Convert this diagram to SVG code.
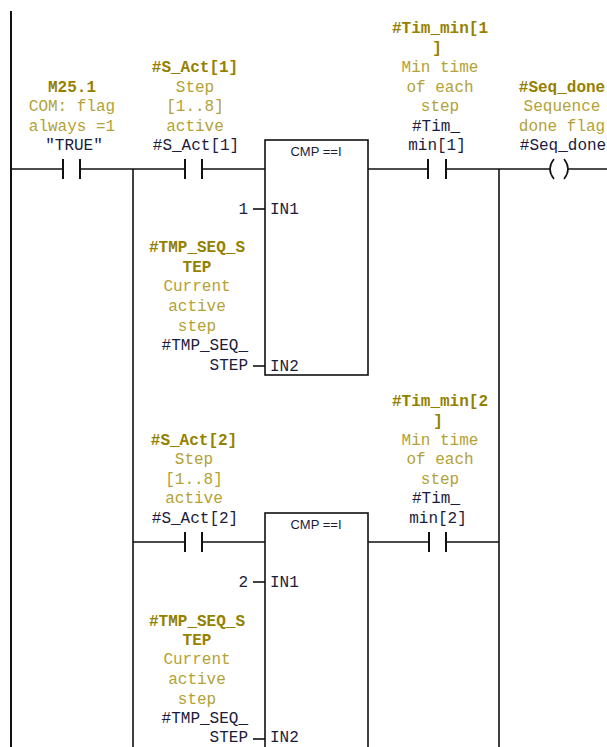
<svg xmlns="http://www.w3.org/2000/svg" width="607" height="747" viewBox="0 0 607 747">
<style>
.w{stroke:#111;stroke-width:1.6;fill:none}
.b{stroke:#111;stroke-width:2;fill:none}
.t{font-family:"Liberation Mono","DejaVu Sans Mono",monospace;font-size:16px;text-anchor:middle}
.sym{fill:#948100;font-weight:bold}
.cmt{fill:#b3a236}
.op{fill:#1c1c3c}
.r{text-anchor:end}
.s{text-anchor:start}
.fb{font-family:"Liberation Sans",Arial,sans-serif;font-size:13px;fill:#1c1c3c;text-anchor:middle}
</style>
<rect width="607" height="747" fill="#fff"/>
<g id="connectors">
<line class="b" x1="11" y1="11" x2="11" y2="747"/>
<line class="w" x1="133" y1="169" x2="133" y2="747"/>
<line class="w" x1="499" y1="169" x2="499" y2="747"/>
<polyline class="w" points="11,169 63,169"/>
<polyline class="w" points="80,169 185,169"/>
<polyline class="w" points="202,169 265,169"/>
<polyline class="w" points="368,169 428,169"/>
<polyline class="w" points="446,169 551,169"/>
<polyline class="w" points="567,169 607,169"/>
<polyline class="w" points="133,542 185,542"/>
<polyline class="w" points="202,542 265,542"/>
<polyline class="w" points="368,542 429,542"/>
<polyline class="w" points="446,542 499,542"/>
<line class="w" x1="253" y1="209" x2="265" y2="209"/>
<line class="w" x1="253" y1="366" x2="265" y2="366"/>
<line class="w" x1="253" y1="582" x2="265" y2="582"/>
<line class="w" x1="253" y1="739" x2="265" y2="739"/>
</g>
<g id="contact-M25_1">
<line class="b" x1="63" y1="159" x2="63" y2="179"/>
<line class="b" x1="80" y1="159" x2="80" y2="179"/>
<text class="t sym" x="72" y="92">M25.1</text>
<text class="t cmt" x="72" y="111">COM: flag</text>
<text class="t cmt" x="72" y="131">always =1</text>
<text class="t op" x="74" y="150">"TRUE"</text>
</g>
<g id="contact-S_Act1">
<line class="b" x1="185" y1="159" x2="185" y2="179"/>
<line class="b" x1="202" y1="159" x2="202" y2="179"/>
<text class="t sym" x="195" y="72">#S_Act[1]</text>
<text class="t cmt" x="195" y="92">Step</text>
<text class="t cmt" x="195" y="111">[1..8]</text>
<text class="t cmt" x="195" y="131">active</text>
<text class="t op" x="196" y="150">#S_Act[1]</text>
</g>
<g id="cmp1">
<rect class="w" x="265" y="140" width="103" height="235"/>
<text class="fb" x="316" y="156">CMP ==I</text>
<text class="t op s" x="270" y="214">IN1</text>
<text class="t op s" x="270" y="371">IN2</text>
<text class="t op r" x="248" y="214">1</text>
<text class="t sym" x="197" y="252">#TMP_SEQ_S</text>
<text class="t sym" x="197" y="272">TEP</text>
<text class="t cmt" x="197" y="291">Current</text>
<text class="t cmt" x="197" y="311">active</text>
<text class="t cmt" x="197" y="331">step</text>
<text class="t op r" x="248" y="350">#TMP_SEQ_</text>
<text class="t op r" x="248" y="370">STEP</text>
</g>
<g id="contact-Tim_min1">
<line class="b" x1="428" y1="159" x2="428" y2="179"/>
<line class="b" x1="446" y1="159" x2="446" y2="179"/>
<text class="t sym" x="440" y="33">#Tim_min[1</text>
<text class="t sym" x="437" y="53">]</text>
<text class="t cmt" x="440" y="72">Min time</text>
<text class="t cmt" x="440" y="92">of each</text>
<text class="t cmt" x="440" y="111">step</text>
<text class="t op" x="436" y="131">#Tim_</text>
<text class="t op" x="437" y="150">min[1]</text>
</g>
<g id="coil-Seq_done">
<path class="w" d="M554,159 Q546,169 554,179"/>
<path class="w" d="M564,159 Q572,169 564,179"/>
<text class="t sym" x="562" y="92">#Seq_done</text>
<text class="t cmt" x="562" y="111">Sequence</text>
<text class="t cmt" x="562" y="131">done flag</text>
<text class="t op" x="563" y="150">#Seq_done</text>
</g>
<g id="contact-S_Act2">
<line class="b" x1="185" y1="532" x2="185" y2="552"/>
<line class="b" x1="202" y1="532" x2="202" y2="552"/>
<text class="t sym" x="194" y="445">#S_Act[2]</text>
<text class="t cmt" x="194" y="464">Step</text>
<text class="t cmt" x="194" y="484">[1..8]</text>
<text class="t cmt" x="194" y="503">active</text>
<text class="t op" x="195" y="523">#S_Act[2]</text>
</g>
<g id="cmp2">
<rect class="w" x="265" y="513" width="103" height="260"/>
<text class="fb" x="316" y="529">CMP ==I</text>
<text class="t op s" x="270" y="587">IN1</text>
<text class="t op s" x="270" y="742">IN2</text>
<text class="t op r" x="248" y="587">2</text>
<text class="t sym" x="197" y="626">#TMP_SEQ_S</text>
<text class="t sym" x="197" y="645">TEP</text>
<text class="t cmt" x="197" y="664">Current</text>
<text class="t cmt" x="197" y="684">active</text>
<text class="t cmt" x="197" y="704">step</text>
<text class="t op r" x="248" y="723">#TMP_SEQ_</text>
<text class="t op r" x="248" y="742">STEP</text>
</g>
<g id="contact-Tim_min2">
<line class="b" x1="429" y1="532" x2="429" y2="552"/>
<line class="b" x1="446" y1="532" x2="446" y2="552"/>
<text class="t sym" x="440" y="406">#Tim_min[2</text>
<text class="t sym" x="438" y="426">]</text>
<text class="t cmt" x="440" y="445">Min time</text>
<text class="t cmt" x="440" y="464">of each</text>
<text class="t cmt" x="440" y="484">step</text>
<text class="t op" x="436" y="503">#Tim_</text>
<text class="t op" x="438" y="523">min[2]</text>
</g>
</svg>
